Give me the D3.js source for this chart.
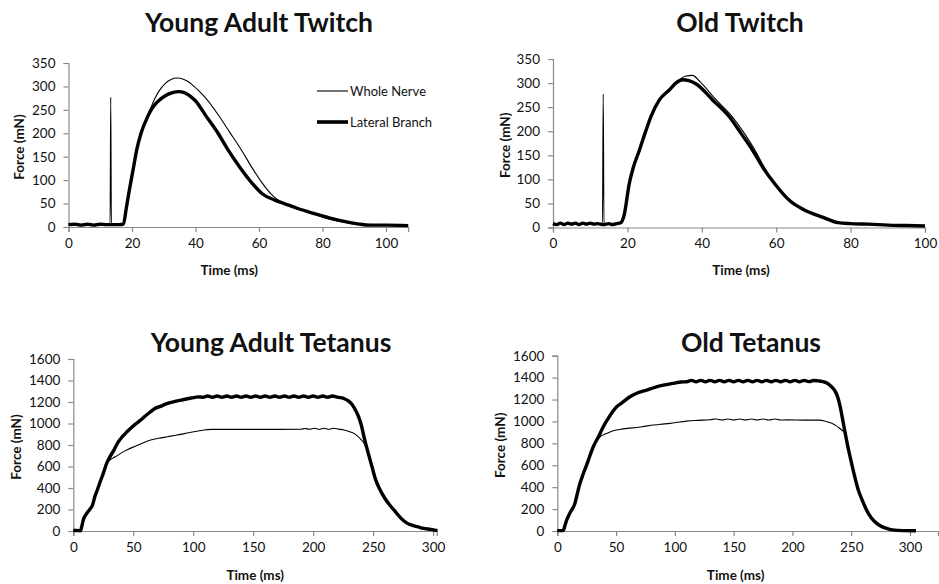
<!DOCTYPE html>
<html>
<head>
<meta charset="utf-8">
<script src="https://cdnjs.cloudflare.com/ajax/libs/d3/7.8.5/d3.min.js"></script>
<style>
html,body{margin:0;padding:0;background:#fff;}
svg{display:block;}
text{font-family:Lato,"Open Sans",sans-serif;fill:#111;}
</style>
</head>
<body>
<svg id="chart" width="939" height="584"></svg>
<script>
// ---------- DATA ----------
const panelTitles = ["Young Adult Twitch", "Old Twitch", "Young Adult Tetanus", "Old Tetanus"];
const seriesNames = ["Whole Nerve", "Lateral Branch"];
const xAxisTitle = "Time (ms)";
const yAxisTitle = "Force (mN)";

const twitchYTicks = [0, 50, 100, 150, 200, 250, 300, 350];
const twitchXTicks = [0, 20, 40, 60, 80, 100];
const tetanusYTicks = [0, 200, 400, 600, 800, 1000, 1200, 1400, 1600];
const tetanusXTicks = [0, 50, 100, 150, 200, 250, 300];

// Young Adult Twitch
const youngTwitchWhole = [[0,5],[4,5],[8,5],[12,5],[13.1,5],[13.3,277],[13.5,5],[15,5],[17.3,5],[18.2,40],[19.2,80],[20.5,128],[22.8,199],[24.5,232],[25.9,254],[27.2,274],[28.5,290],[30.6,307],[32.3,315],[34.2,318],[36,316],[37.5,311],[38.9,304],[41,291],[43.5,273],[47.2,239],[50.8,202],[54.4,165],[57.5,130],[61.1,93],[63.7,71],[65.5,60],[68,50],[72,40],[77,28],[82,17],[87,10],[92,5],[96,4],[100,4],[104,3],[107,3]];
const youngTwitchLateral = [[0,5],[2,6],[4,4],[6,6],[8,4],[10,6],[12,5],[14,5],[16,5],[17.3,6],[18.2,40],[19.2,80],[20.5,128],[21.5,165],[22.8,199],[24.9,235],[26.5,255],[28.5,270],[30.5,280],[32.5,286],[34.7,289],[36.5,287],[38.2,280],[39.9,270],[43.5,235],[47.2,199],[50.3,164],[53.9,128],[58,92],[61,71],[64.8,58],[68,50],[72,40],[77.2,29],[82.4,19],[87.6,11],[91.7,6],[95,4],[100,4],[107,3]];

// Old Twitch
const oldTwitchWhole = [[0,8],[1,6],[2,9],[3,6],[4,9],[5,7],[6,9],[7,6],[8,9],[9,7],[10,9],[11,7],[12,8],[13.3,8],[13.5,277],[13.7,6],[15,8],[16,6],[17,8],[18.2,10],[19.1,25],[20.5,91],[21.6,125],[23.2,160],[24.7,195],[26.3,230],[28.6,265],[31.3,288],[34,307],[35.5,314],[37.5,316],[39.5,303],[43.5,268],[48,232],[51.5,195],[54.5,158],[56.8,125],[59.6,91],[63.6,56],[67.2,38],[72.6,21],[76.6,11],[80,8],[85,6],[90,5],[95,4],[100,3]];
const oldTwitchLateral = [[0,8],[1,6],[2,9],[3,6],[4,9],[5,7],[6,9],[7,6],[8,9],[9,7],[10,9],[11,7],[12,8],[13.5,6],[15,8],[16,6],[17,8],[18.2,10],[19.1,25],[20.5,91],[21.6,125],[23.2,160],[24.7,195],[26.3,230],[28.6,265],[31.3,286],[33,300],[34.9,307],[36.5,305],[38.5,298],[42.9,265],[47.4,230],[50.6,195],[53.7,160],[56.4,125],[59.6,91],[63.6,56],[67.2,38],[72.6,21],[76.6,10],[80,8],[85,7],[90,5],[95,4],[100,3]];

// Young Adult Tetanus
const youngTetanusWhole = [[0,5],[3,5],[6,3],[7,40],[8.3,102],[11,160],[14,205],[16,240],[18,320],[20,381],[22.5,460],[25,536],[27.8,620],[31,665],[35,690],[39.5,722],[45,755],[50.6,784],[57,815],[64.5,847],[71,862],[78.4,877],[84,888],[89.5,899],[95,912],[100.6,924],[105,932],[109,940],[115,945],[130,945],[150,945],[170,945],[190,946],[193,954],[197,946],[201,956],[205,946],[209,956],[213,946],[217,956],[221,948],[225.7,940],[230,925],[234,908],[237,882],[239.6,855],[242.5,815],[246,720],[249,600],[252,480],[255,400],[260,300],[265,226],[268.5,180],[272,133],[275,100],[278.6,71],[283,52],[287,40],[292,25],[298,15],[303.6,3]];
const youngTetanusLateral = [[0,5],[3,5],[6,3],[7,40],[8.3,102],[11,160],[14,205],[16,240],[18,320],[20,381],[22.5,460],[25,536],[27.8,629],[30.5,690],[33.9,753],[37,820],[40.9,877],[45,925],[49.2,970],[52.5,1000],[56.2,1032],[60,1070],[64.5,1110],[68,1140],[72.8,1160],[78,1185],[84,1203],[90,1218],[95,1230],[100,1240],[104,1248],[108,1244],[112,1256],[116,1244],[120,1256],[124,1244],[128,1256],[132,1244],[136,1256],[140,1244],[144,1256],[148,1244],[152,1256],[156,1244],[160,1256],[164,1244],[168,1256],[172,1244],[176,1256],[180,1244],[184,1256],[188,1244],[192,1256],[196,1244],[200,1256],[204,1244],[208,1256],[212,1244],[216,1256],[220,1246],[223,1240],[226,1230],[229,1212],[231.5,1190],[234,1150],[236,1110],[238,1060],[240,990],[243,847],[246,720],[249,600],[252,480],[255,400],[260,300],[265,226],[268.5,180],[272,133],[275,100],[278.6,71],[283,52],[287,40],[292,25],[298,15],[303.6,3]];

// Old Tetanus
const oldTetanusWhole = [[0,3],[5,3],[6.5,50],[8,100],[11,170],[15,252],[17,340],[19.3,435],[22,520],[24.4,587],[27.5,680],[29.2,739],[31,790],[33.5,830],[37,865],[42,891],[47,912],[53.3,927],[60,937],[67.5,945],[74,955],[81.7,967],[88,975],[95.8,982],[102,992],[110,1003],[120,1010],[130,1016],[135,1022],[140,1013],[145,1022],[150,1013],[155,1022],[160,1013],[165,1022],[170,1013],[175,1022],[180,1013],[185,1022],[190,1013],[195,1014],[210,1012],[223,1012],[228,1002],[233,985],[237,962],[240,938],[243,912],[244.7,895],[246,830],[249,678],[252,540],[256,374],[259,290],[263,192],[267,120],[271.6,70],[276,40],[280,24],[285,10],[294,3],[305,2]];
const oldTetanusLateral = [[0,3],[5,3],[6.5,50],[8,100],[11,170],[15,252],[17,340],[19.3,435],[22,520],[24.4,587],[27.5,680],[30.6,769],[35,860],[39.1,952],[44,1040],[50.5,1134],[55,1170],[61.8,1225],[68,1260],[76,1286],[83,1312],[90.2,1332],[100,1350],[105,1360],[110,1362],[114,1375],[118,1362],[122,1375],[126,1362],[130,1375],[134,1362],[138,1375],[142,1362],[146,1375],[150,1362],[154,1375],[158,1362],[162,1375],[166,1362],[170,1375],[174,1362],[178,1375],[182,1362],[186,1375],[190,1362],[194,1375],[198,1362],[202,1375],[206,1362],[210,1375],[214,1363],[218,1374],[222,1370],[225,1366],[228,1356],[231,1338],[234,1308],[236.5,1272],[238.5,1222],[240.5,1140],[243.3,982],[246,830],[249,678],[252,540],[256,374],[259,290],[263,192],[267,120],[271.6,70],[276,40],[280,24],[285,10],[294,3],[305,2]];

// ---------- LAYOUT ----------
const panels = [
  {title: panelTitles[0], titleX: 259, titleY: 32, x0: 68.5, x1: 408.2, xMax: 107, y0: 227, y1: 63, yMax: 350,
   xTicks: twitchXTicks, yTicks: twitchYTicks, whole: youngTwitchWhole, lateral: youngTwitchLateral,
   yLabelX: 19, xLabelY: 275, legend: true},
  {title: panelTitles[1], titleX: 740, titleY: 32, x0: 553, x1: 925, xMax: 100, y0: 227.5, y1: 59, yMax: 350,
   xTicks: twitchXTicks, yTicks: twitchYTicks, whole: oldTwitchWhole, lateral: oldTwitchLateral,
   yLabelX: 505, xLabelY: 275, legend: false},
  {title: panelTitles[2], titleX: 271, titleY: 352, x0: 73.3, x1: 436.7, xMax: 303, y0: 531, y1: 359, yMax: 1600,
   xTicks: tetanusXTicks, yTicks: tetanusYTicks, whole: youngTetanusWhole, lateral: youngTetanusLateral,
   yLabelX: 16, xLabelY: 580, legend: false},
  {title: panelTitles[3], titleX: 751, titleY: 352, x0: 557.3, x1: 938, xMax: 323.8, y0: 531, y1: 355.7, yMax: 1600,
   xTicks: tetanusXTicks, yTicks: tetanusYTicks, whole: oldTetanusWhole, lateral: oldTetanusLateral,
   yLabelX: 500, xLabelY: 580, legend: false}
];

const svg = d3.select("#chart");
const axisColor = "#8a8a8a";

panels.forEach(p => {
  const x = d3.scaleLinear().domain([0, p.xMax]).range([p.x0, p.x1]);
  const y = d3.scaleLinear().domain([0, p.yMax]).range([p.y0, p.y1]);
  const g = svg.append("g");

  // axes
  const xa = g.append("g").attr("transform", `translate(0,${p.y0})`)
    .call(d3.axisBottom(x).tickValues(p.xTicks).tickSize(5).tickPadding(6).tickFormat(d3.format("d")));
  const ya = g.append("g").attr("transform", `translate(${p.x0},0)`)
    .call(d3.axisLeft(y).tickValues(p.yTicks).tickSize(5).tickPadding(8).tickFormat(d3.format("d")));
  [xa, ya].forEach(a => {
    a.select(".domain").attr("stroke", axisColor).attr("stroke-width", 1.2);
    a.selectAll(".tick line").attr("stroke", axisColor).attr("stroke-width", 1.2);
    a.selectAll(".tick text").attr("font-size", 13.5).attr("font-family", "Lato").attr("fill", "#222");
  });

  // lines
  const line = d3.line().x(d => x(d[0])).y(d => y(d[1])).curve(d3.curveMonotoneX);
  g.append("path").datum(p.whole).attr("d", line).attr("fill", "none")
    .attr("stroke", "#000").attr("stroke-width", 1.1).attr("stroke-linejoin", "round");
  g.append("path").datum(p.lateral).attr("d", line).attr("fill", "none")
    .attr("stroke", "#000").attr("stroke-width", 3.4).attr("stroke-linejoin", "round");

  // titles
  g.append("text").attr("x", p.titleX).attr("y", p.titleY).attr("text-anchor", "middle")
    .attr("font-size", 26.5).attr("font-weight", "bold").text(p.title);
  g.append("text").attr("x", (p.x0 + (p.x0 + (p.xTicks[p.xTicks.length-1] - 0) * (p.x1 - p.x0) / p.xMax)) / 2 + 2)
    .attr("y", p.xLabelY).attr("text-anchor", "middle")
    .attr("font-size", 13.5).attr("font-weight", "bold").text(xAxisTitle);
  g.append("text").attr("transform", `translate(${p.yLabelX + 5},${(p.y0 + p.y1) / 2 + 2}) rotate(-90)`)
    .attr("text-anchor", "middle").attr("font-size", 13.5).attr("font-weight", "bold").text(yAxisTitle);

  if (p.legend) {
    const lg = g.append("g");
    const items = [{name: seriesNames[0], w: 1.1, yy: 91}, {name: seriesNames[1], w: 3.6, yy: 122}];
    items.forEach(it => {
      lg.append("line").attr("x1", 317).attr("x2", 348).attr("y1", it.yy).attr("y2", it.yy)
        .attr("stroke", "#000").attr("stroke-width", it.w);
      lg.append("text").attr("x", 350).attr("y", it.yy + 4.5).attr("font-size", 13).text(it.name);
    });
  }
});
</script>
</body>
</html>
